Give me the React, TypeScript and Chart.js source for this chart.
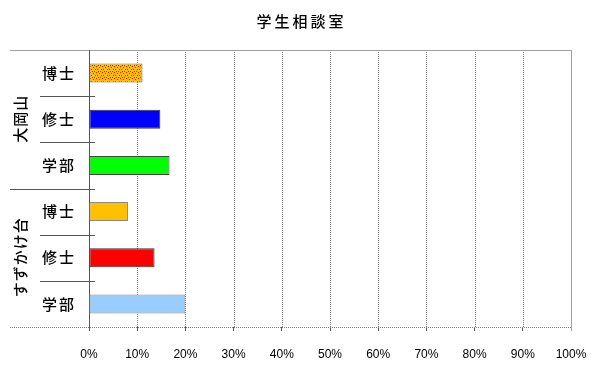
import React, { useEffect, useRef } from 'react';
import { Chart, registerables } from 'chart.js';

Chart.register(...registerables);

const chartTitle = '学生相談室';
const groups = ['大岡山', 'すずかけ台'];
const categories = ['博士', '修士', '学部', '博士', '修士', '学部'];
const groupIndex = [0, 0, 0, 1, 1, 1];
const values = [11.1, 14.8, 16.7, 8.1, 13.6, 20.0];
const xMin = 0;
const xMax = 100;
const xStep = 10;

const CJK = '"Noto Sans CJK JP", "Noto Sans", sans-serif';

function makeDotPattern(ctx: CanvasRenderingContext2D): CanvasPattern | string {
  const c = document.createElement('canvas');
  c.width = 6;
  c.height = 6;
  const g = c.getContext('2d');
  if (!g) return '#FFC000';
  g.fillStyle = '#FFC000';
  g.fillRect(0, 0, 6, 6);
  g.fillStyle = '#FF0000';
  const dots = [[0, 0], [3, 1], [5, 3], [1, 3], [4, 5], [2, 5]];
  dots.forEach(([px, py]) => g.fillRect(px, py, 1, 1));
  return ctx.createPattern(c, 'repeat') || '#FFC000';
}

const decor = {
  id: 'decor',
  beforeDatasetsDraw(chart: any) {
    const { ctx, chartArea: a, scales } = chart;
    const x = scales.x;
    const y = scales.y;
    const line = (x0: number, y0: number, x1: number, y1: number) => {
      ctx.beginPath();
      ctx.moveTo(x0, y0);
      ctx.lineTo(x1, y1);
      ctx.stroke();
    };
    ctx.save();
    ctx.lineWidth = 1;
    ctx.strokeStyle = '#7a7a7a';
    ctx.setLineDash([1, 1]);
    for (let v = xMin + xStep; v < xMax; v += xStep) {
      const px = Math.round(x.getPixelForValue(v)) + 0.5;
      line(px, a.top, px, a.bottom);
    }
    const by = Math.round(a.bottom) + 0.5;
    line(10, by, a.right, by);
    ctx.setLineDash([]);
    ctx.strokeStyle = '#a0a0a0';
    const ty = Math.round(a.top) + 0.5;
    line(10, ty, a.right + 1, ty);
    const rx = Math.round(a.right) + 0.5;
    line(rx, a.top, rx, a.bottom + 4);
    ctx.strokeStyle = '#555555';
    const lx = Math.round(a.left) + 0.5;
    line(lx, a.top, lx, a.bottom + 4);
    for (let i = 1; i < categories.length; i++) {
      const yb = Math.round((y.getPixelForValue(i - 1) + y.getPixelForValue(i)) / 2) + 0.5;
      const x0 = groupIndex[i] !== groupIndex[i - 1] ? 10 : 40;
      line(x0, yb, a.left + 6, yb);
    }
    ctx.restore();
  },
  afterDraw(chart: any) {
    const { ctx, scales } = chart;
    const y = scales.y;
    ctx.save();
    ctx.fillStyle = '#000';
    ctx.textAlign = 'center';
    ctx.textBaseline = 'middle';
    ctx.font = `500 15px ${CJK}`;
    (ctx as any).letterSpacing = '3px';
    ctx.fillText(chartTitle, 301.5, 21);
    (ctx as any).letterSpacing = '2px';
    ctx.font = `500 15px ${CJK}`;
    categories.forEach((c, i) => {
      ctx.fillText(c, 59, y.getPixelForValue(i));
    });
    (ctx as any).letterSpacing = '1px';
    ctx.font = `500 15px ${CJK}`;
    groups.forEach((g, gi) => {
      const idx = groupIndex.map((v, i) => (v === gi ? i : -1)).filter((i) => i >= 0);
      const cy = (y.getPixelForValue(idx[0]) + y.getPixelForValue(idx[idx.length - 1])) / 2;
      ctx.save();
      ctx.translate(20, cy);
      ctx.rotate(-Math.PI / 2);
      ctx.fillText(g, 0.5, 0);
      ctx.restore();
    });
    ctx.restore();
  },
};

export default function App() {
  const ref = useRef<HTMLCanvasElement | null>(null);
  useEffect(() => {
    const canvas = ref.current;
    if (!canvas) return;
    const ctx = canvas.getContext('2d');
    if (!ctx) return;
    const pattern = makeDotPattern(ctx);
    const chart = new Chart(canvas, {
      type: 'bar',
      data: {
        labels: categories,
        datasets: [
          {
            data: values,
            backgroundColor: [pattern, '#0000FF', '#00FF00', '#FFC000', '#FF0000', '#99CCFF'] as any,
            borderColor: ['#6e6e6e', '#333333', '#444444', '#8a8a8a', '#333333', '#8a8a8a'],
            borderWidth: 1,
            borderSkipped: false,
            categoryPercentage: 1,
            barPercentage: 0.41,
          },
        ],
      },
      options: {
        indexAxis: 'y',
        responsive: false,
        animation: false,
        events: [],
        layout: { padding: { left: 0, right: 29, top: 50, bottom: 0 } },
        plugins: {
          legend: { display: false },
          title: { display: false },
          tooltip: { enabled: false },
        },
        scales: {
          x: {
            min: xMin,
            max: xMax,
            afterFit: (s: any) => {
              s.height = 45;
              s.paddingLeft = 0;
              s.paddingRight = 0;
            },
            ticks: {
              stepSize: xStep,
              callback: (v: any) => `${v}%`,
              color: '#000',
              font: { size: 12, family: '"Liberation Sans", Arial, sans-serif' },
              padding: 16,
              maxRotation: 0,
              autoSkip: false,
            },
            grid: {
              display: true,
              drawOnChartArea: false,
              drawTicks: true,
              tickLength: 4,
              color: '#555555',
            },
            border: { display: false },
          },
          y: {
            afterFit: (s: any) => {
              s.width = 89;
              s.paddingTop = 0;
              s.paddingBottom = 0;
            },
            ticks: { display: false },
            grid: { display: false, drawTicks: false },
            border: { display: false },
          },
        },
      },
      plugins: [decor],
    });
    return () => chart.destroy();
  }, []);
  return (
    <div style={{ position: 'absolute', left: 0, top: 0, width: 600, height: 372, background: '#fff' }}>
      <canvas ref={ref} width={600} height={372} />
    </div>
  );
}
